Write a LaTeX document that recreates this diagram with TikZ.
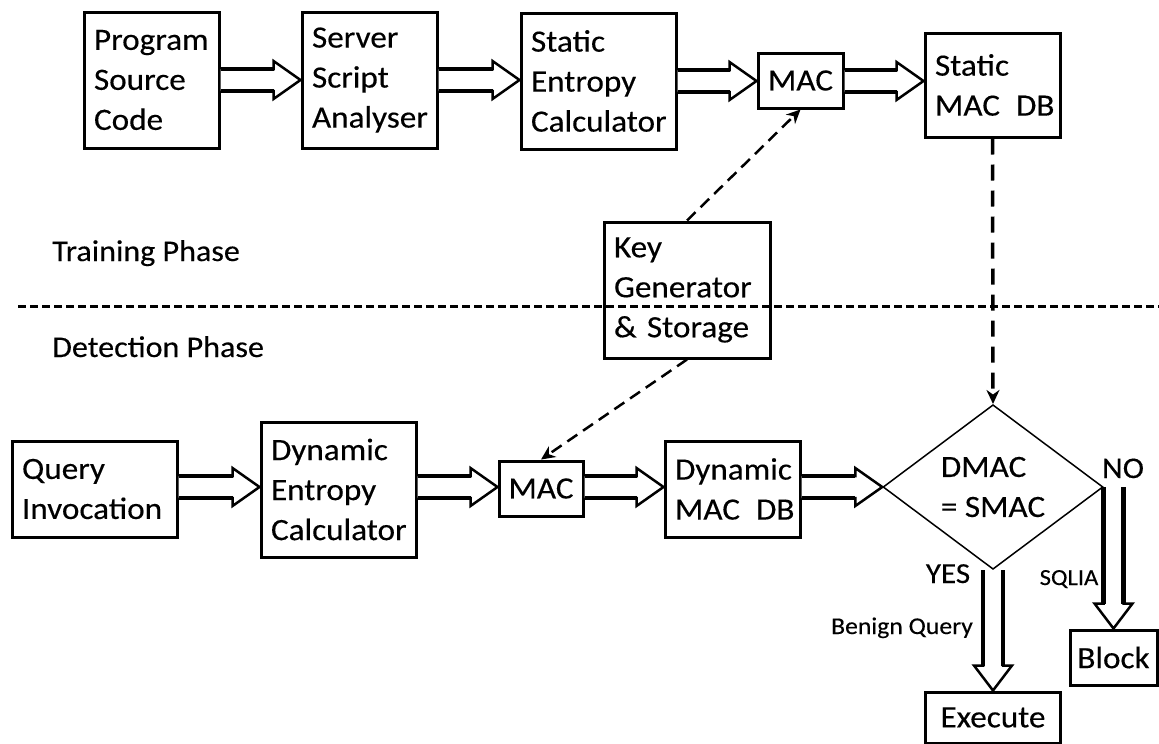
\documentclass[tikz,border=0pt]{standalone}
\usepackage{fontspec}
\setmainfont[FakeStretch=1.07,FakeBold=0.3]{Carlito}
\usetikzlibrary{calc,arrows.meta,shapes.geometric}
\tikzset{
  box/.style={draw, line width=3pt, align=left, inner xsep=10pt, inner ysep=0pt,
    font=\fontsize{31}{40}\selectfont},
  cbox/.style={box, align=center, inner xsep=0pt},
  lbl/.style={inner sep=0pt, anchor=base},
  dasharrow/.style={line width=2.5pt, dash pattern=on 12pt off 7pt,
    -{Stealth[length=14pt,width=13pt]}},
  vdasharrow/.style={line width=3.5pt, dash pattern=on 16pt off 10pt,
    -{Stealth[length=14pt,width=13pt]}},
  phaseline/.style={line width=3pt, dash pattern=on 8pt off 4pt},
  headline/.style={fill=white, line width=2.5pt, line join=miter},
  shaftline/.style={line width=4.5pt},
}
\newcommand\harrow[3]{%
  \coordinate (ha) at (#1.east |- 0,#3);
  \coordinate (hb) at (#2.west |- 0,#3);
  \filldraw[headline] ($(ha)+(0,-11)$) -- ($(hb)+(-27,-11)$) -- ($(hb)+(-27,-19)$) -- (hb)
     -- ($(hb)+(-27,19)$) -- ($(hb)+(-27,11)$) -- ($(ha)+(0,11)$);
  \draw[shaftline] ($(ha)+(0,-11)$) -- ($(hb)+(-27,-11)$)
     ($(ha)+(0,11)$) -- ($(hb)+(-27,11)$);
}
\newcommand\varrow[2]{%
  \coordinate (va) at (#1);
  \coordinate (vb) at (#2);
  \filldraw[headline] ($(va)+(-10,0)$) -- ($(vb)+(-10,-25)$) -- ($(vb)+(-19,-25)$) -- (vb)
     -- ($(vb)+(19,-25)$) -- ($(vb)+(10,-25)$) -- ($(va)+(10,0)$);
  \draw[shaftline] ($(va)+(-10,0)$) -- ($(vb)+(-10,-25)$)
     ($(va)+(10,0)$) -- ($(vb)+(10,-25)$);
}
\begin{document}
\begin{tikzpicture}[x=1pt,y=-1pt]
\useasboundingbox (0,0) rectangle (1159,744);

% training row
\node[box, text width=115, minimum height=136] (psc) at (151.5,80) {Program\\Source\\Code};
\node[box, text width=115, minimum height=136] (ssa) at (369.5,80) {Server\\Script\\Analyser};
\node[box, text width=135, minimum height=136] (sec) at (598.5,81) {Static\\Entropy\\Calculator};
\node[cbox, minimum width=85, minimum height=55] (mac1) at (800.5,80.5) {MAC};
\node[box, text width=115, minimum height=104] (smdb) at (992.5,85) {Static\\\mbox{MAC\kern16pt DB}};

% key
\node[box, text width=146, minimum height=136] (key) at (687,290) {Key\\Generator\\\& Storage};

% phase line and labels
\coordinate (pl) at (18,306);
\coordinate (pr) at (1159,306);
\draw[phaseline] (pl) -- (pr);
\node[lbl, anchor=base west, font=\fontsize{30}{36}\selectfont] (tp) at (52,261) {Training Phase};
\node[lbl, anchor=base west, font=\fontsize{30}{36}\selectfont] (dp) at (52,357) {Detection Phase};

% detection row
\node[box, text width=145, minimum height=96] (qi) at (94.5,489) {Query\\Invocation};
\node[box, text width=135, minimum height=135] (dec) at (338.5,489.5) {Dynamic\\Entropy\\Calculator};
\node[cbox, minimum width=84, minimum height=55] (mac2) at (541,488.5) {MAC};
\node[box, text width=115, minimum height=96] (dmdb) at (732.5,489) {Dynamic\\\mbox{MAC\kern16pt DB}};
\node[draw, diamond, line width=1.5pt, minimum width=220, minimum height=160, inner sep=0pt,
      align=left, font=\fontsize{31}{40}\selectfont] (d) at (993,487) {DMAC\\= SMAC};
\node[cbox, minimum width=135, minimum height=51] (exe) at (993,717.5) {Execute};
\node[cbox, minimum width=87, minimum height=55] (blk) at (1113.5,657.5) {Block};

% block arrows
\harrow{psc}{ssa}{80}
\harrow{ssa}{sec}{80}
\harrow{sec}{mac1}{81}
\harrow{mac1}{smdb}{81}
\harrow{qi}{dec}{487}
\harrow{dec}{mac2}{487}
\harrow{mac2}{dmdb}{487}
\harrow{dmdb}{d}{487}
\varrow{d.south}{exe.north}
\varrow{blk.north |- d.east}{blk.north}

% dashed arrows
\draw[dasharrow] (key.north) -- (mac1.south);
\draw[dasharrow] (key.south) -- (mac2.north);
\draw[vdasharrow] (smdb.south) -- (d.north);

% labels
\node[lbl, font=\fontsize{30}{36}\selectfont] (no) at (1123,478) {NO};
\node[lbl, font=\fontsize{29}{36}\selectfont] (yes) at (948,583) {YES};
\node[lbl, font=\fontsize{23}{28}\selectfont] (sq) at (1069,585) {SQLIA};
\node[lbl, font=\fontsize{24}{28}\selectfont] (bq) at (902,634) {Benign Query};
\end{tikzpicture}
\end{document}
